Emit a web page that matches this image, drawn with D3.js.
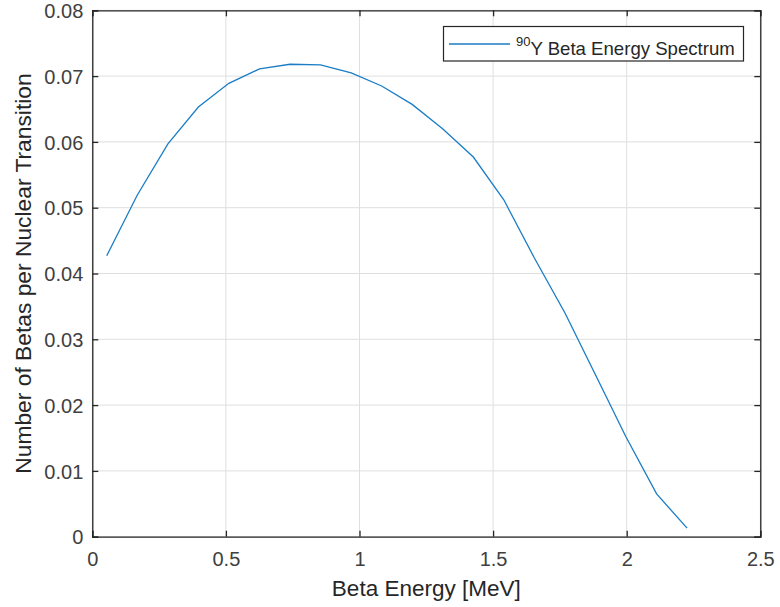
<!DOCTYPE html>
<html>
<head>
<meta charset="utf-8">
<script src="https://cdn.jsdelivr.net/npm/d3@7"></script>
<style>
body{margin:0;background:#fff;}
text{font-family:"Liberation Sans",Arial,Helvetica,sans-serif;}
</style>
</head>
<body>
<div id="graph"></div>
<script>
var width=780;
var height=607;
var margin={left:92.3,right:20,top:10.3,bottom:70.3};

// beta energy [MeV]
var energy=[0.054,0.168,0.283,0.397,0.511,0.626,0.740,0.854,0.969,1.083,
	1.197,1.311,1.426,1.540,1.654,1.769,1.883,1.997,2.112,2.226];
// number of betas per nuclear transition
var betas=[0.0427,0.0519,0.0597,0.0653,0.0689,0.0711,0.0718,0.0717,0.0705,0.0685,
	0.0657,0.0620,0.0577,0.0512,0.0424,0.0340,0.0246,0.0152,0.0065,0.0013];
var xTicks=[0,0.5,1,1.5,2,2.5];
var yTicks=[0,0.01,0.02,0.03,0.04,0.05,0.06,0.07,0.08];

var svg=d3.select('#graph').append('svg').attr('width',width).attr('height',height);

var x=d3.scaleLinear().domain([0,2.5]).range([margin.left,width-margin.right+0.3]);
var y=d3.scaleLinear().domain([0,0.08]).range([height-margin.bottom,margin.top]);

// grid
svg.append('g').selectAll('line').data(xTicks).enter().append('line')
	.attr('x1',function(d){return x(d);}).attr('x2',function(d){return x(d);})
	.attr('y1',y(0)).attr('y2',y(0.08))
	.attr('stroke','#dfdfdf').attr('stroke-width',1);
svg.append('g').selectAll('line').data(yTicks).enter().append('line')
	.attr('y1',function(d){return y(d);}).attr('y2',function(d){return y(d);})
	.attr('x1',x(0)).attr('x2',x(2.5))
	.attr('stroke','#dfdfdf').attr('stroke-width',1);

// axes, ticks inward
var fmt=function(d){return d3.format('')(d);};
var gx=svg.append('g').attr('transform','translate(0,'+y(0)+')')
	.call(d3.axisBottom(x).tickValues(xTicks).tickSize(-6).tickFormat(fmt));
var gxTop=svg.append('g').attr('transform','translate(0,'+y(0.08)+')')
	.call(d3.axisTop(x).tickValues(xTicks).tickSize(-6).tickFormat(''));
var gy=svg.append('g').attr('transform','translate('+x(0)+',0)')
	.call(d3.axisLeft(y).tickValues(yTicks).tickSize(-6).tickFormat(fmt));
var gyRight=svg.append('g').attr('transform','translate('+x(2.5)+',0)')
	.call(d3.axisRight(y).tickValues(yTicks).tickSize(-6).tickFormat(''));

[gx,gxTop,gy,gyRight].forEach(function(g){
	g.attr('font-size',null).attr('font-family',null);
	g.select('.domain').attr('stroke','#262626').attr('stroke-width',1.3);
	g.selectAll('.tick line').attr('stroke','#262626').attr('stroke-width',1.3);
	g.selectAll('.tick text').attr('fill','#404040').style('font-size','20px');
});
gx.selectAll('.tick text').attr('dy',null).attr('y',29);
gy.selectAll('.tick text').attr('dy','0.36em').attr('x',-9);

// curve
var line=d3.line().x(function(d,i){return x(energy[i]);}).y(function(d){return y(d);});
svg.append('path').datum(betas).attr('d',line)
	.attr('fill','none').attr('stroke','#1a7dc6').attr('stroke-width',1.3);

// axis labels
svg.append('text').attr('x',(x(0)+x(2.5))/2).attr('y',596)
	.attr('text-anchor','middle').attr('fill','#262626').style('font-size','22.5px')
	.text('Beta Energy [MeV]');
svg.append('text').attr('transform','translate(31,'+((y(0)+y(0.08))/2)+') rotate(-90)')
	.attr('text-anchor','middle').attr('fill','#262626').style('font-size','22.8px')
	.text('Number of Betas per Nuclear Transition');

// legend
var lg=svg.append('g');
lg.append('rect').attr('x',443.5).attr('y',26.5).attr('width',300).attr('height',34.5)
	.attr('fill','#fff').attr('stroke','#262626').attr('stroke-width',1.2);
lg.append('line').attr('x1',449).attr('x2',510).attr('y1',44).attr('y2',44)
	.attr('stroke','#1a7dc6').attr('stroke-width',1.3);
var lt=lg.append('text').attr('x',516).attr('y',55).attr('fill','#262626').style('font-size','18.6px');
lt.append('tspan').attr('dy','-9').style('font-size','13px').text('90');
lt.append('tspan').attr('dy','9').text('Y Beta Energy Spectrum');
</script>
</body>
</html>
